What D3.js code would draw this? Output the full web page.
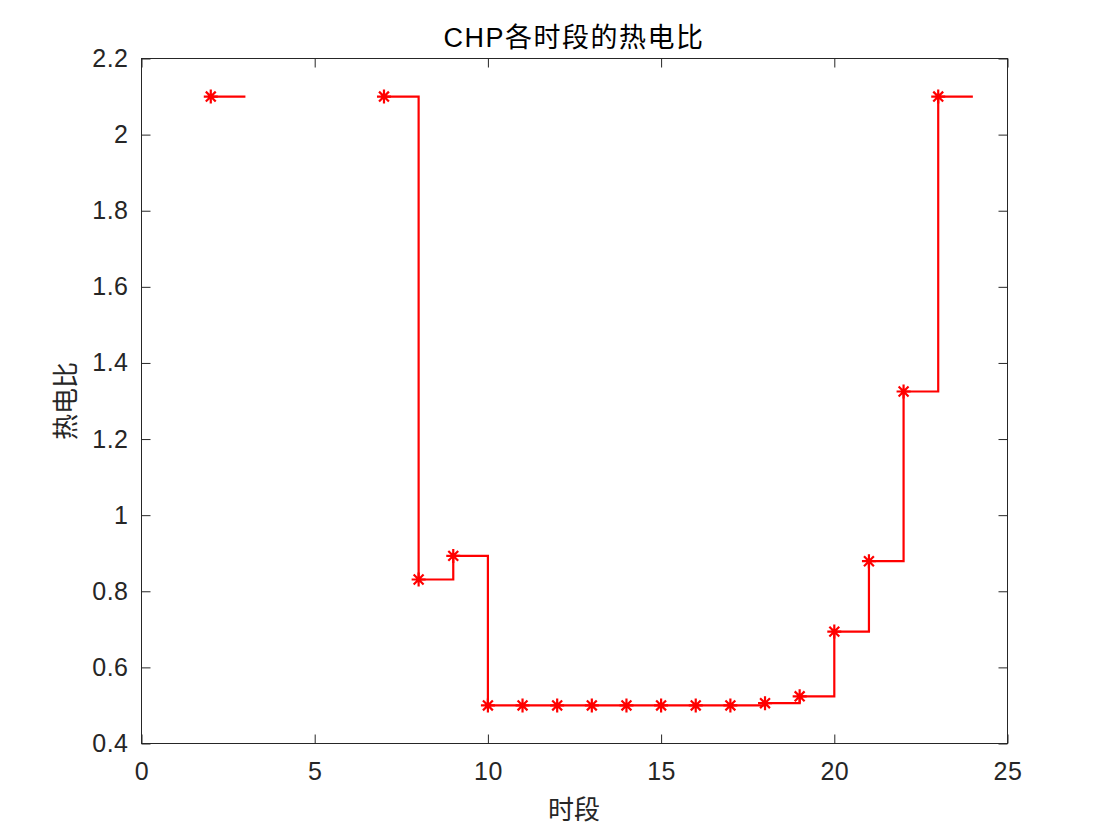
<!DOCTYPE html>
<html><head><meta charset="utf-8">
<script src="https://cdn.jsdelivr.net/npm/d3@7"></script>
<style>body{margin:0;background:#fff;} text{font-family:"Liberation Sans","Noto Sans CJK SC",Arial,sans-serif;}</style>
</head><body>
<svg id="c" width="1110" height="831"></svg>
<script>
const hours = [1,2,3,4,5,6,7,8,9,10,11,12,13,14,15,16,17,18,19,20,21,22,23,24];
const ratio = [null,2.1,null,null,null,null,2.1,0.831,0.893,0.5,0.5,0.5,0.5,0.5,0.5,0.5,0.5,0.506,0.524,0.694,0.879,1.325,2.1,null];
const xTicks = [0,5,10,15,20,25];
const yTicks = [0.4,0.6,0.8,1,1.2,1.4,1.6,1.8,2,2.2];
const titleText = "CHP各时段的热电比";
const xLabel = "时段";
const yLabel = "热电比";

(function(){
const svg = d3.select("#c");
const L=141.5, R=1007.5, T=58.5, B=743.5;
const x = d3.scaleLinear().domain([0,25]).range([L,R]);
const y = d3.scaleLinear().domain([0.4,2.2]).range([B,T]);
const axisColor="#262626";
const tl=9;

// stairs
let d="";
for(let i=0;i<hours.length-1;i++){
  if(ratio[i]==null) continue;
  d += `M${x(hours[i])},${y(ratio[i])}H${x(hours[i+1])}`;
  if(ratio[i+1]!=null) d += `V${y(ratio[i+1])}`;
}
svg.append("path").attr("d",d).attr("fill","none").attr("stroke","#ff0000").attr("stroke-width",2.2);

// markers (asterisk)
const pts = hours.map((h,i)=>({h,v:ratio[i]})).filter(p=>p.v!=null);
const r=7;
const g = svg.append("g").attr("stroke","#ff0000").attr("stroke-width",2.2);
pts.forEach(p=>{
  const cx=x(p.h), cy=y(p.v);
  const a=r*0.7071;
  g.append("path").attr("d",`M${cx-r},${cy}H${cx+r}M${cx},${cy-r}V${cy+r}M${cx-a},${cy-a}L${cx+a},${cy+a}M${cx-a},${cy+a}L${cx+a},${cy-a}`);
});

// axes
const ax = svg.append("g");
ax.append("rect").attr("x",L).attr("y",T).attr("width",R-L).attr("height",B-T).attr("fill","none").attr("stroke",axisColor).attr("stroke-width",1);
const axB = d3.axisBottom(x).tickValues(xTicks).tickSize(-tl).tickPadding(19).tickFormat(d3.format("d"));
const gb = ax.append("g").attr("transform",`translate(0,${B})`).call(axB);
const axT = d3.axisTop(x).tickValues(xTicks).tickSize(-tl).tickFormat("");
const gt = ax.append("g").attr("transform",`translate(0,${T})`).call(axT);
const axL = d3.axisLeft(y).tickValues(yTicks).tickSize(-tl).tickPadding(13).tickFormat(d=>String(+d.toFixed(1)));
const gl = ax.append("g").attr("transform",`translate(${L},0)`).call(axL);
const axR = d3.axisRight(y).tickValues(yTicks).tickSize(-tl).tickFormat("");
const gr = ax.append("g").attr("transform",`translate(${R},0)`).call(axR);
[gb,gt,gl,gr].forEach(g=>{
  g.select(".domain").remove();
  g.selectAll("line").attr("stroke",axisColor);
  g.selectAll("text").attr("fill",axisColor).style("font-size","25px").style("letter-spacing","0.5px").style("font-family","'Liberation Sans',Arial,sans-serif");
});

svg.append("text").attr("x",574).attr("y",47).attr("text-anchor","middle").attr("fill","#000").style("font-size","27px").style("letter-spacing","1.5px").text(titleText);
svg.append("text").attr("x",574).attr("y",819).attr("text-anchor","middle").attr("fill",axisColor).style("font-size","26px").text(xLabel);
svg.append("text").attr("transform",`translate(75,${(T+B)/2}) rotate(-90)`).attr("text-anchor","middle").attr("fill",axisColor).style("font-size","26px").text(yLabel);
})();
</script>
</body></html>
